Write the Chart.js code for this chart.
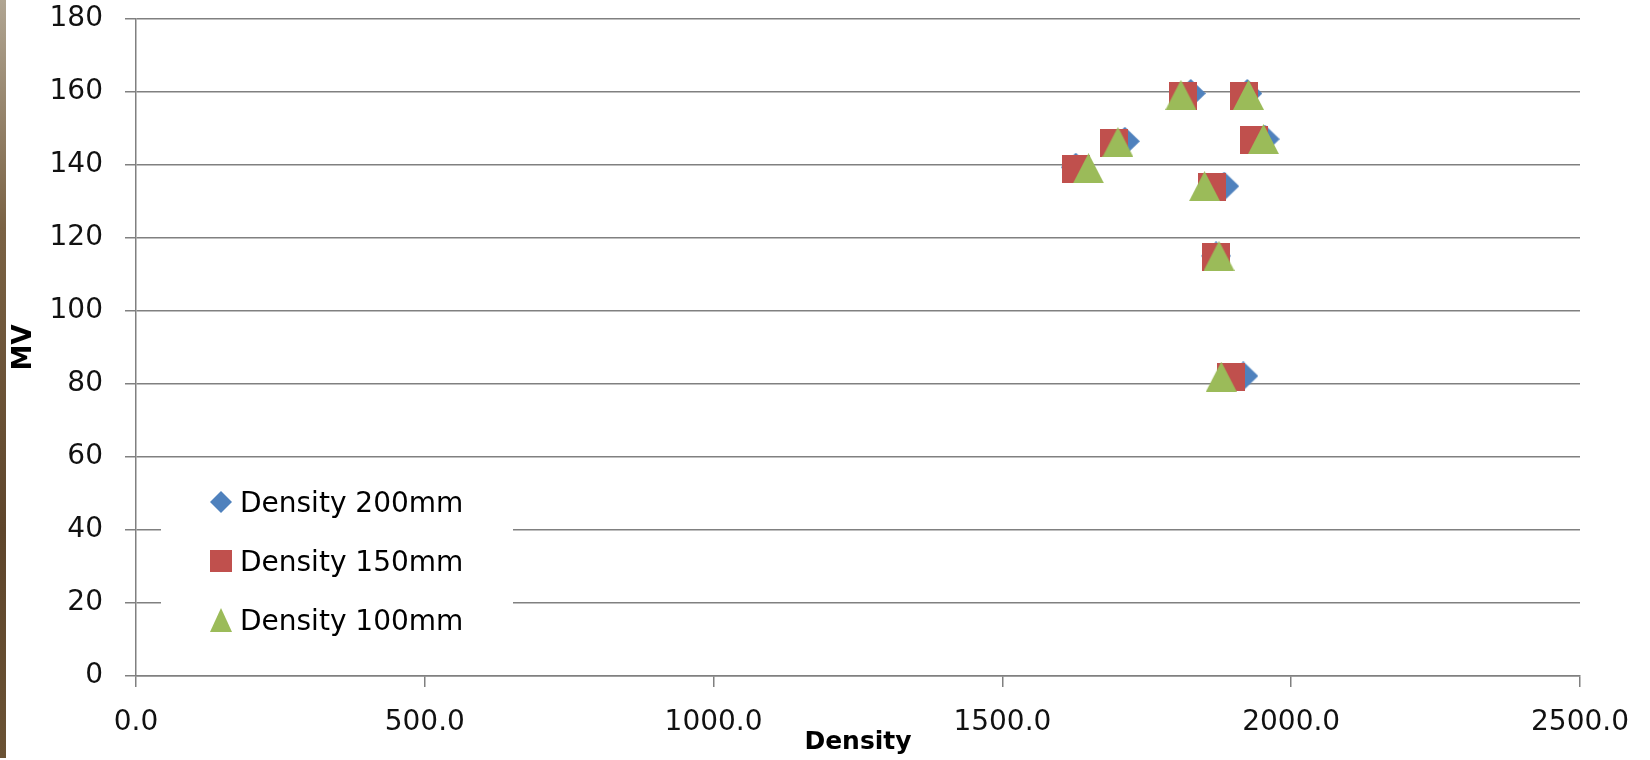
<!DOCTYPE html>
<html>
<head>
<meta charset="utf-8">
<script src="https://cdn.jsdelivr.net/npm/chart.js@4.4.0/dist/chart.umd.min.js"></script>
<style>
  body { margin: 0; background: #fff; }
  #wrap { position: relative; width: 1650px; height: 760px; }
  #strip { position: absolute; left: 0; top: 0; width: 6px; height: 758px;
           background: linear-gradient(#b0a592, #7a6244 30%, #5e452b 70%, #6a5234); }
  #mvChart { position: absolute; left: 0; top: 0; }
</style>
</head>
<body>
<div id="wrap">
  <div id="strip"></div>
  <canvas id="mvChart" width="1650" height="760"></canvas>
</div>
<script>
// series values (x = density, y = MV)
var labels = ['Density 200mm', 'Density 150mm', 'Density 100mm'];
var density200 = [1826, 1924, 1712, 1954, 1627, 1884, 1870, 1917];
var mv200      = [159.6, 159.6, 146.5, 147.1, 139.4, 134.2, 115.1, 82.2];
var density150 = [1813, 1918, 1693, 1936, 1628, 1863, 1869, 1895];
var mv150      = [159.0, 159.0, 145.9, 146.9, 139.0, 133.9, 114.8, 81.8];
var density100 = [1809, 1926, 1700, 1952, 1649, 1850, 1875, 1879];
var mv100      = [159.2, 159.2, 146.3, 147.1, 139.1, 134.2, 115.1, 82.0];
var xTicks = [0, 500, 1000, 1500, 2000, 2500];
var yTicks = [0, 20, 40, 60, 80, 100, 120, 140, 160, 180];

var colors = ['#4F81BD', '#C0504D', '#9BBB59'];

function makeMarker(shape, color, w, h) {
    var c = document.createElement('canvas');
    c.width = w; c.height = h;
    var g = c.getContext('2d');
    g.fillStyle = color;
    g.beginPath();
    if (shape === 'diamond') {
        g.moveTo(w / 2, 0); g.lineTo(w, h / 2); g.lineTo(w / 2, h); g.lineTo(0, h / 2);
    } else if (shape === 'square') {
        g.rect(0, 0, w, h);
    } else {
        g.moveTo(w / 2, 0); g.lineTo(w, h); g.lineTo(0, h);
    }
    g.closePath();
    g.fill();
    return c;
}

function toPoints(xs, ys) {
    return xs.map(function (x, i) { return { x: x, y: ys[i] }; });
}

var plotMarkers = [
    makeMarker('diamond', colors[0], 30, 29),
    makeMarker('square', colors[1], 28, 28),
    makeMarker('triangle', colors[2], 31, 30)
];
var legendMarkers = [
    makeMarker('diamond', colors[0], 22, 22),
    makeMarker('square', colors[1], 22, 22),
    makeMarker('triangle', colors[2], 22, 24)
];

// legend sits inside the plot on a white box
var insideLegend = {
    id: 'insideLegend',
    afterDraw: function (chart) {
        var ctx = chart.ctx;
        ctx.save();
        ctx.fillStyle = '#fff';
        ctx.fillRect(161, 472, 352, 176);
        var rows = [502, 561, 620];
        ctx.font = '28px "DejaVu Sans"';
        ctx.fillStyle = '#000';
        ctx.textBaseline = 'alphabetic';
        chart.data.datasets.forEach(function (ds, i) {
            var m = legendMarkers[i];
            ctx.drawImage(m, 221 - m.width / 2, rows[i] - m.height / 2);
            ctx.fillText(ds.label, 240, rows[i] + 10);
        });
        ctx.restore();
    }
};

var gridColor = '#808080';

var ctx = document.getElementById('mvChart').getContext('2d');
new Chart(ctx, {
    type: 'scatter',
    data: {
        datasets: [
            { label: labels[0], data: toPoints(density200, mv200), pointStyle: plotMarkers[0], order: 3 },
            { label: labels[1], data: toPoints(density150, mv150), pointStyle: plotMarkers[1], order: 2 },
            { label: labels[2], data: toPoints(density100, mv100), pointStyle: plotMarkers[2], order: 1 }
        ]
    },
    options: {
        responsive: false,
        animation: false,
        devicePixelRatio: 1,
        layout: { padding: { left: 0, top: 19, right: 70, bottom: 0 } },
        plugins: { legend: { display: false }, tooltip: { enabled: false } },
        scales: {
            x: {
                type: 'linear',
                min: 0, max: 2500,
                afterBuildTicks: function (s) { s.ticks = xTicks.map(function (v) { return { value: v }; }); },
                afterFit: function (s) { s.height = 84; },
                ticks: {
                    callback: function (v) { return v.toFixed(1); },
                    font: { family: 'DejaVu Sans', size: 28 },
                    color: '#111',
                    padding: 19,
                    maxRotation: 0,
                    autoSkip: false
                },
                grid: { drawOnChartArea: false, drawTicks: true, tickLength: 11, color: gridColor, lineWidth: 1.5 },
                border: { display: true, color: gridColor, width: 1.5 },
                title: {
                    display: true,
                    text: 'Density',
                    font: { family: 'DejaVu Sans', size: 25, weight: 'bold' },
                    color: '#000',
                    padding: { top: 0, bottom: 3 }
                }
            },
            y: {
                type: 'linear',
                min: 0, max: 180,
                afterBuildTicks: function (s) { s.ticks = yTicks.map(function (v) { return { value: v }; }); },
                afterFit: function (s) {
                    s.width = 136;
                    s.paddingTop = 0;
                    s.paddingBottom = 0;
                },
                ticks: {
                    font: { family: 'DejaVu Sans', size: 28 },
                    color: '#111',
                    padding: 22
                },
                grid: { drawTicks: true, tickLength: 11, color: gridColor, lineWidth: 1.5 },
                border: { display: true, color: gridColor, width: 1.5 },
                title: {
                    display: true,
                    text: 'MV',
                    font: { family: 'DejaVu Sans', size: 26, weight: 'bold' },
                    color: '#000',
                    padding: { top: 9, bottom: 0 }
                }
            }
        }
    },
    plugins: [insideLegend]
});
</script>
</body>
</html>
